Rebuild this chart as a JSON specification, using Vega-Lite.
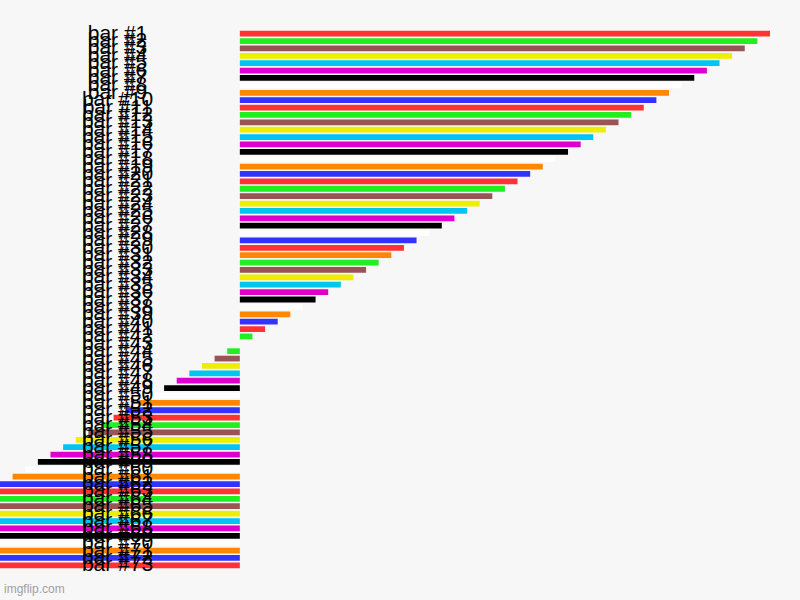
{
  "$schema": "https://vega.github.io/schema/vega-lite/v6.json",
  "description": "imgflip style horizontal bar chart, bar #1 to bar #73",
  "width": 770,
  "height": 539,
  "autosize": "none",
  "padding": {"left": 0, "top": 30, "right": 30, "bottom": 31},
  "background": "#f7f7f7",
  "config": {"view": {"stroke": null}},
  "title": {
    "text": "imgflip.com",
    "orient": "bottom",
    "anchor": "start",
    "frame": "group",
    "offset": 9,
    "baseline": "top",
    "dx": 4,
    "font": "Liberation Sans",
    "fontSize": 12,
    "fontWeight": "normal",
    "color": "#a0a0a0"
  },
  "data": {
    "values": [
      {"label": "bar #1", "value": 42, "colour": "red"},
      {"label": "bar #2", "value": 41, "colour": "green"},
      {"label": "bar #3", "value": 40, "colour": "brown"},
      {"label": "bar #4", "value": 39, "colour": "yellow"},
      {"label": "bar #5", "value": 38, "colour": "cyan"},
      {"label": "bar #6", "value": 37, "colour": "magenta"},
      {"label": "bar #7", "value": 36, "colour": "black"},
      {"label": "bar #8", "value": 35, "colour": "white"},
      {"label": "bar #9", "value": 34, "colour": "orange"},
      {"label": "bar #10", "value": 33, "colour": "blue"},
      {"label": "bar #11", "value": 32, "colour": "red"},
      {"label": "bar #12", "value": 31, "colour": "green"},
      {"label": "bar #13", "value": 30, "colour": "brown"},
      {"label": "bar #14", "value": 29, "colour": "yellow"},
      {"label": "bar #15", "value": 28, "colour": "cyan"},
      {"label": "bar #16", "value": 27, "colour": "magenta"},
      {"label": "bar #17", "value": 26, "colour": "black"},
      {"label": "bar #18", "value": 25, "colour": "white"},
      {"label": "bar #19", "value": 24, "colour": "orange"},
      {"label": "bar #20", "value": 23, "colour": "blue"},
      {"label": "bar #21", "value": 22, "colour": "red"},
      {"label": "bar #22", "value": 21, "colour": "green"},
      {"label": "bar #23", "value": 20, "colour": "brown"},
      {"label": "bar #24", "value": 19, "colour": "yellow"},
      {"label": "bar #25", "value": 18, "colour": "cyan"},
      {"label": "bar #26", "value": 17, "colour": "magenta"},
      {"label": "bar #27", "value": 16, "colour": "black"},
      {"label": "bar #28", "value": 15, "colour": "white"},
      {"label": "bar #29", "value": 14, "colour": "blue"},
      {"label": "bar #30", "value": 13, "colour": "red"},
      {"label": "bar #31", "value": 12, "colour": "orange"},
      {"label": "bar #32", "value": 11, "colour": "green"},
      {"label": "bar #33", "value": 10, "colour": "brown"},
      {"label": "bar #34", "value": 9, "colour": "yellow"},
      {"label": "bar #35", "value": 8, "colour": "cyan"},
      {"label": "bar #36", "value": 7, "colour": "magenta"},
      {"label": "bar #37", "value": 6, "colour": "black"},
      {"label": "bar #38", "value": 5, "colour": "white"},
      {"label": "bar #39", "value": 4, "colour": "orange"},
      {"label": "bar #40", "value": 3, "colour": "blue"},
      {"label": "bar #41", "value": 2, "colour": "red"},
      {"label": "bar #42", "value": 1, "colour": "green"},
      {"label": "bar #43", "value": 0, "colour": "brown"},
      {"label": "bar #44", "value": -1, "colour": "green"},
      {"label": "bar #45", "value": -2, "colour": "brown"},
      {"label": "bar #46", "value": -3, "colour": "yellow"},
      {"label": "bar #47", "value": -4, "colour": "cyan"},
      {"label": "bar #48", "value": -5, "colour": "magenta"},
      {"label": "bar #49", "value": -6, "colour": "black"},
      {"label": "bar #50", "value": -7, "colour": "white"},
      {"label": "bar #51", "value": -8, "colour": "orange"},
      {"label": "bar #52", "value": -9, "colour": "blue"},
      {"label": "bar #53", "value": -10, "colour": "red"},
      {"label": "bar #54", "value": -11, "colour": "green"},
      {"label": "bar #55", "value": -12, "colour": "brown"},
      {"label": "bar #56", "value": -13, "colour": "yellow"},
      {"label": "bar #57", "value": -14, "colour": "cyan"},
      {"label": "bar #58", "value": -15, "colour": "magenta"},
      {"label": "bar #59", "value": -16, "colour": "black"},
      {"label": "bar #60", "value": -17, "colour": "white"},
      {"label": "bar #61", "value": -18, "colour": "orange"},
      {"label": "bar #62", "value": -19, "colour": "blue"},
      {"label": "bar #63", "value": -20, "colour": "red"},
      {"label": "bar #64", "value": -21, "colour": "green"},
      {"label": "bar #65", "value": -22, "colour": "brown"},
      {"label": "bar #66", "value": -23, "colour": "yellow"},
      {"label": "bar #67", "value": -24, "colour": "cyan"},
      {"label": "bar #68", "value": -25, "colour": "magenta"},
      {"label": "bar #69", "value": -26, "colour": "black"},
      {"label": "bar #70", "value": -27, "colour": "white"},
      {"label": "bar #71", "value": -28, "colour": "orange"},
      {"label": "bar #72", "value": -29, "colour": "blue"},
      {"label": "bar #73", "value": -30, "colour": "red"}
    ]
  },
  "mark": {"type": "bar", "clip": true},
  "encoding": {
    "y": {
      "field": "label",
      "type": "nominal",
      "sort": null,
      "scale": {"paddingInner": 0.22, "paddingOuter": 0.11},
      "axis": {
        "title": null,
        "domain": false,
        "ticks": false,
        "tickSize": 0,
        "labelPadding": -117,
        "labelAlign": "center",
        "labelBaseline": "middle",
        "labelFont": "Liberation Sans",
        "labelFontSize": 21,
        "labelColor": "#000000",
        "labelOverlap": false,
        "labelBound": false,
        "labelFlush": false,
        "labelLimit": 0,
        "zindex": 1
      }
    },
    "x": {
      "field": "value",
      "type": "quantitative",
      "scale": {"domain": [-19, 42], "nice": false},
      "axis": null
    },
    "color": {
      "field": "colour",
      "type": "nominal",
      "scale": {
        "domain": ["red", "green", "brown", "yellow", "cyan", "magenta", "black", "white", "orange", "blue"],
        "range": ["#ff3333", "#22ee22", "#995555", "#eeee00", "#00c4f2", "#dd00cc", "#000000", "#ffffff", "#ff8800", "#3333ff"]
      },
      "legend": null
    }
  }
}
